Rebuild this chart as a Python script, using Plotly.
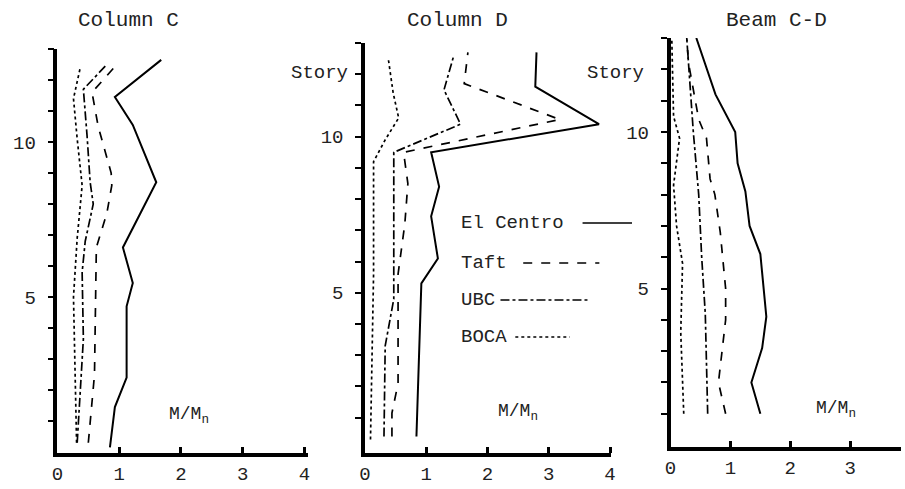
import plotly.graph_objects as go

# ---------------- data (M/Mn vs story) ----------------
panel_titles = ["Column C", "Column D", "Beam C-D"]
series_names = ["El Centro", "Taft", "UBC", "BOCA"]
x_tick_vals = [0, 1, 2, 3, 4]
y_tick_vals = list(range(1, 14))
y_tick_text = ["" if v not in (5, 10) else str(v) for v in y_tick_vals]

# Column C
colC_elcentro_story = [0.15, 1.45, 2.4, 4.7, 5.45, 6.6, 8.7, 10.55, 11.45, 12.65]
colC_elcentro_mmn   = [0.85, 0.93, 1.12, 1.12, 1.22, 1.06, 1.60, 1.22, 0.93, 1.68]
colC_taft_story = [0.3, 2.5, 6.6, 7.7, 8.6, 9.0, 10.5, 11.6, 12.5]
colC_taft_mmn   = [0.50, 0.60, 0.63, 0.80, 0.88, 0.87, 0.66, 0.56, 0.96]
colC_ubc_story = [0.3, 3.65, 5.8, 6.8, 8.0, 8.7, 10.2, 11.5, 11.7, 12.5]
colC_ubc_mmn   = [0.32, 0.42, 0.40, 0.45, 0.58, 0.53, 0.48, 0.42, 0.42, 0.80]
colC_boca_story = [0.3, 2.6, 5.0, 6.9, 8.6, 10.1, 11.4, 12.4]
colC_boca_mmn   = [0.31, 0.29, 0.26, 0.32, 0.40, 0.32, 0.26, 0.37]

# Column D
colD_elcentro_story = [0.4, 5.3, 6.1, 7.45, 8.4, 9.5, 10.4, 11.6, 12.7]
colD_elcentro_mmn   = [0.84, 0.92, 1.19, 1.08, 1.21, 1.08, 3.82, 2.78, 2.80]
colD_taft_story = [0.4, 1.15, 2.1, 5.6, 7.2, 8.5, 9.5, 10.55, 11.7, 12.7]
colD_taft_mmn   = [0.44, 0.44, 0.54, 0.54, 0.65, 0.70, 0.63, 3.18, 1.62, 1.68]
colD_ubc_story = [0.4, 3.3, 4.8, 9.5, 10.4, 11.5, 12.6]
colD_ubc_mmn   = [0.31, 0.33, 0.47, 0.47, 1.56, 1.29, 1.45]
colD_boca_story = [0.3, 5.6, 9.2, 9.9, 10.6, 11.4, 12.5]
colD_boca_mmn   = [0.09, 0.14, 0.14, 0.33, 0.55, 0.46, 0.38]

# Beam C-D
beam_elcentro_story = [1, 2, 3.1, 4.1, 6.1, 7, 8.1, 9, 10, 11.2, 13]
beam_elcentro_mmn   = [1.50, 1.35, 1.53, 1.60, 1.50, 1.32, 1.25, 1.12, 1.08, 0.75, 0.43]
beam_taft_story = [1, 2, 4, 5, 6.8, 8, 8.5, 9.8, 10.4, 12.2, 13]
beam_taft_mmn   = [0.92, 0.80, 0.92, 0.92, 0.83, 0.74, 0.66, 0.60, 0.47, 0.30, 0.27]
beam_ubc_story = [1, 4.2, 6, 8, 10, 12.1, 13]
beam_ubc_mmn   = [0.62, 0.58, 0.52, 0.47, 0.38, 0.30, 0.27]
beam_boca_story = [1, 3.6, 5.8, 7, 8.3, 9.8, 10.5, 13]
beam_boca_mmn   = [0.22, 0.17, 0.20, 0.10, 0.05, 0.15, 0.05, 0.02]

panels = [
    [(colC_elcentro_mmn, colC_elcentro_story), (colC_taft_mmn, colC_taft_story),
     (colC_ubc_mmn, colC_ubc_story), (colC_boca_mmn, colC_boca_story)],
    [(colD_elcentro_mmn, colD_elcentro_story), (colD_taft_mmn, colD_taft_story),
     (colD_ubc_mmn, colD_ubc_story), (colD_boca_mmn, colD_boca_story)],
    [(beam_elcentro_mmn, beam_elcentro_story), (beam_taft_mmn, beam_taft_story),
     (beam_ubc_mmn, beam_ubc_story), (beam_boca_mmn, beam_boca_story)],
]

# ---------------- styling ----------------
W, H = 905, 489
FONT = "Liberation Mono, Courier New, monospace"
dashes = ["solid", "dash", "dashdot", "dot"]
widths = [2.0, 1.7, 1.7, 1.7]


def px(x):
    return x / W


def py(y):
    return 1 - y / H


# pixel geometry per panel: (x_left, x_right, x_range_max, y_bottom, y_top, y_range_min)
geom = [
    (52, 305, 4.05, 453, 49, -0.03),
    (363, 612, 4.02, 453, 43, -0.13),
    (672, 905, 3.85, 447, 38, -0.06),
]

fig = go.Figure()
for i, series in enumerate(panels):
    ax = "" if i == 0 else str(i + 1)
    for j, (xv, yv) in enumerate(series):
        fig.add_trace(go.Scatter(
            x=xv, y=yv, mode="lines", name=series_names[j],
            line=dict(color="#000", width=widths[j], dash=dashes[j]),
            xaxis="x" + ax, yaxis="y" + ax, showlegend=False,
        ))
    xl, xr, xmax, yb, yt, ymin = geom[i]
    xaxis = dict(
        domain=[px(xl), px(xr)], range=[0, xmax], anchor="y" + ax,
        showline=True, linecolor="#000", linewidth=3.5, showgrid=False, zeroline=False,
        tickvals=x_tick_vals, ticks="inside", ticklen=6, tickwidth=2.5, tickcolor="#000",
        tickfont=dict(family=FONT, size=19, color="#222"),
    )
    yaxis = dict(
        domain=[py(yb), py(yt)], range=[ymin, 13], anchor="x" + ax,
        showline=True, linecolor="#000", linewidth=3.5, showgrid=False, zeroline=False,
        tickvals=y_tick_vals, ticktext=y_tick_text, ticks="outside", ticklen=6,
        tickwidth=2, tickcolor="#000", ticklabelstandoff=8,
        tickfont=dict(family=FONT, size=19, color="#222"),
    )
    fig.update_layout(**{"xaxis" + ax: xaxis, "yaxis" + ax: yaxis})

annotations = []
# panel titles
for title, cx in zip(panel_titles, [124, 457, 779]):
    annotations.append(dict(text=title, x=px(cx), y=py(21), xref="paper", yref="paper",
                            showarrow=False, xanchor="center", yanchor="middle",
                            font=dict(family=FONT, size=21, color="#222")))
# Story labels
for cx in [348, 647]:
    annotations.append(dict(text="Story", x=px(cx), y=py(73), xref="paper", yref="paper",
                            showarrow=False, xanchor="right", yanchor="middle",
                            font=dict(family=FONT, size=19, color="#222")))
# M/Mn labels
for cx, cy in [(163, 415), (495, 412), (817, 409)]:
    annotations.append(dict(text="M/M<sub>n</sub>", x=px(cx), y=py(cy), xref="paper", yref="paper",
                            showarrow=False, xanchor="left", yanchor="middle",
                            font=dict(family=FONT, size=18, color="#222")))
# legend (text + line samples)
legend_rows = [(223, 583, 633), (263, 523, 600), (300, 500, 588), (337, 515, 570)]
shapes = []
for j, (ly, x0, x1) in enumerate(legend_rows):
    annotations.append(dict(text=series_names[j], x=px(458), y=py(ly), xref="paper", yref="paper",
                            showarrow=False, xanchor="left", yanchor="middle",
                            font=dict(family=FONT, size=19, color="#222")))
    shapes.append(dict(type="line", xref="paper", yref="paper", x0=px(x0), x1=px(x1),
                       y0=py(ly), y1=py(ly),
                       line=dict(color="#000", width=1.7, dash=dashes[j])))

fig.update_layout(
    width=W, height=H, margin=dict(l=0, r=0, t=0, b=0),
    paper_bgcolor="white", plot_bgcolor="white",
    annotations=annotations, shapes=shapes, showlegend=False,
)

fig.write_html("out.html")
